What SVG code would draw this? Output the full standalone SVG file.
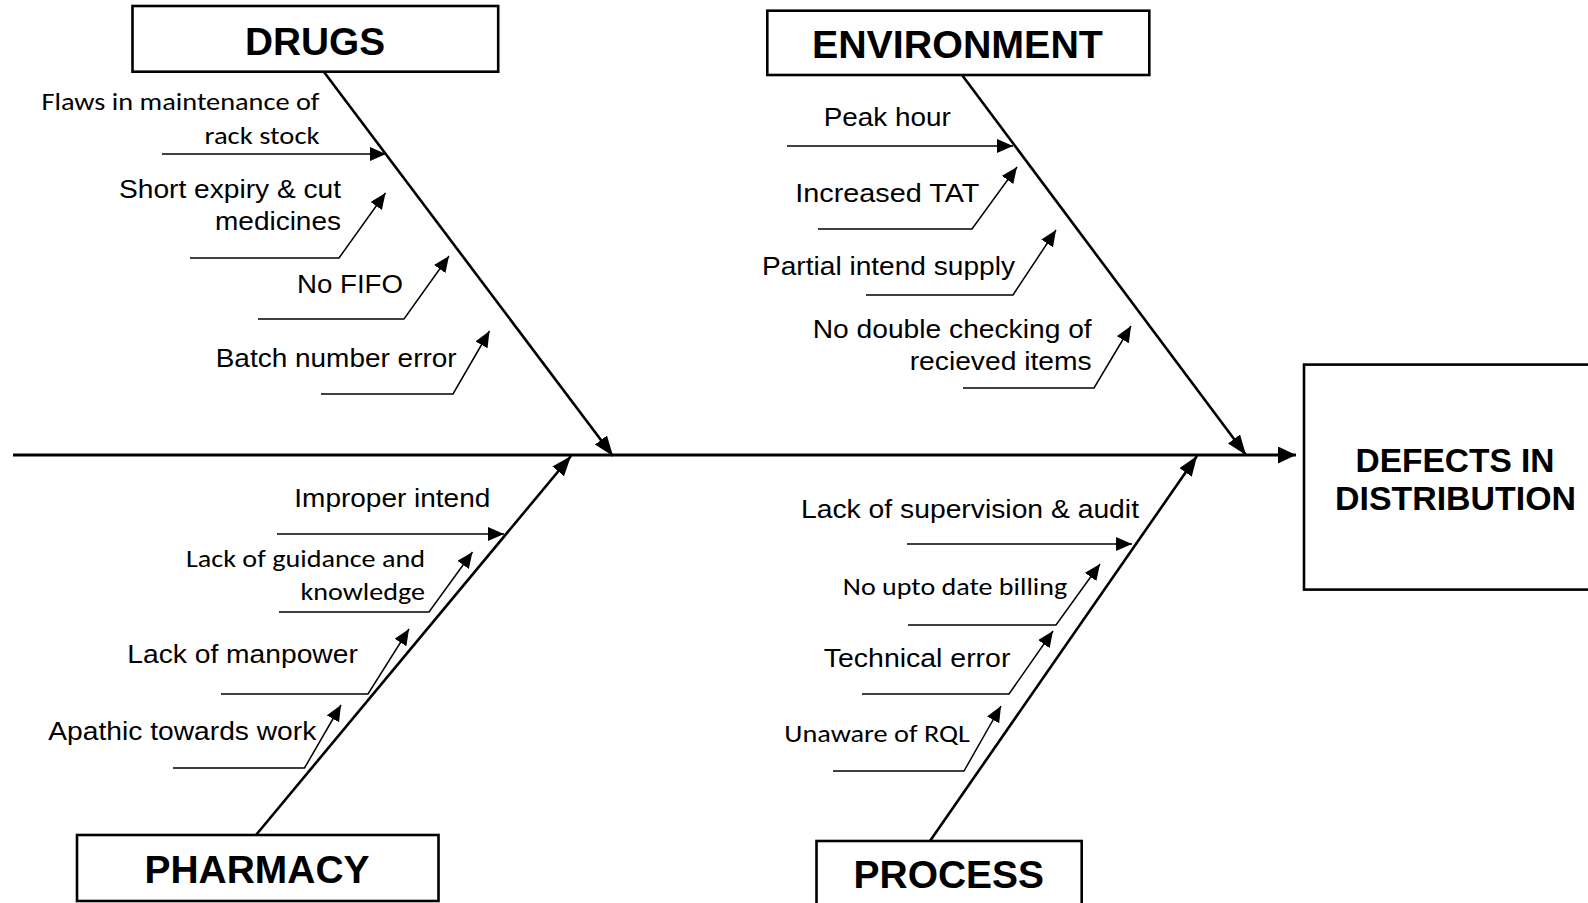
<svg xmlns="http://www.w3.org/2000/svg" width="1588" height="903" viewBox="0 0 1588 903">
<style>
.box{fill:#fff;stroke:#000;stroke-width:2.6}
.title{font-family:"Liberation Sans",Arial,sans-serif;font-weight:bold;font-size:38px;fill:#000;text-anchor:middle}
.big{font-family:"Liberation Sans",Arial,sans-serif;font-weight:bold;font-size:33px;fill:#000;text-anchor:middle}
.t{font-family:"Liberation Sans",Arial,sans-serif;font-size:25.5px;fill:#000;text-anchor:end}
.c{font-family:Carlito,Lato,"Open Sans",sans-serif;font-size:25px;fill:#000;text-anchor:end}
.spine{stroke:#000;stroke-width:3;fill:none}
.bone{stroke:#000;stroke-width:2.6;fill:none}
.lead{stroke:#000;stroke-width:1.5;fill:none}
</style>
<defs>
<marker id="ah" markerUnits="userSpaceOnUse" markerWidth="19" markerHeight="18" refX="18" refY="8.5" orient="auto"><path d="M0,0 L18,8.5 L0,17 z" fill="#000"/></marker>
<marker id="ahb" markerUnits="userSpaceOnUse" markerWidth="21" markerHeight="16" refX="20" refY="7.5" orient="auto"><path d="M0,0 L20,7.5 L0,15 z" fill="#000"/></marker>
<marker id="ahl" markerUnits="userSpaceOnUse" markerWidth="17" markerHeight="15" refX="16" refY="7" orient="auto"><path d="M0,0 L16,7 L0,14 z" fill="#000"/></marker>
</defs>

<g id="connectors">
<line class="spine" x1="13" y1="455" x2="1296" y2="455" marker-end="url(#ah)"/>
<line class="bone" x1="324" y1="72" x2="613" y2="456" marker-end="url(#ahb)"/>
<line class="bone" x1="962" y1="75" x2="1246" y2="455" marker-end="url(#ahb)"/>
<line class="bone" x1="256" y1="835" x2="571" y2="456" marker-end="url(#ahb)"/>
<line class="bone" x1="930" y1="841" x2="1197" y2="456" marker-end="url(#ahb)"/>
<!-- drugs leaders -->
<polyline class="lead" points="162,154 386,154" marker-end="url(#ahl)"/>
<polyline class="lead" points="190,258 339,258 385.5,193" marker-end="url(#ahl)"/>
<polyline class="lead" points="258,319 404,319 449,256" marker-end="url(#ahl)"/>
<polyline class="lead" points="321,394 453,394 489.5,331" marker-end="url(#ahl)"/>
<!-- environment leaders -->
<polyline class="lead" points="787,146 1013,146" marker-end="url(#ahl)"/>
<polyline class="lead" points="818,229 972,229 1017,167" marker-end="url(#ahl)"/>
<polyline class="lead" points="866,295 1013,295 1056,230" marker-end="url(#ahl)"/>
<polyline class="lead" points="963,388 1094,388 1131,326" marker-end="url(#ahl)"/>
<!-- pharmacy leaders -->
<polyline class="lead" points="277,534 504,534" marker-end="url(#ahl)"/>
<polyline class="lead" points="279,612 429,612 472.5,552" marker-end="url(#ahl)"/>
<polyline class="lead" points="221,694 368,694 409,629" marker-end="url(#ahl)"/>
<polyline class="lead" points="173,768 304.5,768 341,705" marker-end="url(#ahl)"/>
<!-- process leaders -->
<polyline class="lead" points="907,544 1132,544" marker-end="url(#ahl)"/>
<polyline class="lead" points="908,625 1056,625 1100,564" marker-end="url(#ahl)"/>
<polyline class="lead" points="862,694 1009,694 1053,631" marker-end="url(#ahl)"/>
<polyline class="lead" points="833,771 964,771 1001,706" marker-end="url(#ahl)"/>
</g>

<g id="drugs">
<rect class="box" x="132.5" y="6" width="365.7" height="65.7"/>
<text class="title" x="315" y="55" textLength="140" lengthAdjust="spacingAndGlyphs">DRUGS</text>
<text class="c" x="319.5" y="110" textLength="278" lengthAdjust="spacingAndGlyphs">Flaws in maintenance of</text>
<text class="c" x="319.5" y="144" textLength="115" lengthAdjust="spacingAndGlyphs">rack stock</text>
<text class="t" x="341" y="198" textLength="222" lengthAdjust="spacingAndGlyphs">Short expiry &amp; cut</text>
<text class="t" x="341" y="230" textLength="126" lengthAdjust="spacingAndGlyphs">medicines</text>
<text class="t" x="403" y="293" textLength="106" lengthAdjust="spacingAndGlyphs">No FIFO</text>
<text class="t" x="456.7" y="367" textLength="241" lengthAdjust="spacingAndGlyphs">Batch number error</text>
</g>

<g id="environment">
<rect class="box" x="767.3" y="10.7" width="382" height="64.3"/>
<text class="title" x="957.4" y="58.3" textLength="291" lengthAdjust="spacingAndGlyphs">ENVIRONMENT</text>
<text class="t" x="950.7" y="126" textLength="127" lengthAdjust="spacingAndGlyphs">Peak hour</text>
<text class="t" x="979.3" y="202.3" textLength="184" lengthAdjust="spacingAndGlyphs">Increased TAT</text>
<text class="t" x="1015" y="275" textLength="253" lengthAdjust="spacingAndGlyphs">Partial intend supply</text>
<text class="t" x="1091.7" y="338.3" textLength="279" lengthAdjust="spacingAndGlyphs">No double checking of</text>
<text class="t" x="1091.7" y="370" textLength="182" lengthAdjust="spacingAndGlyphs">recieved items</text>
</g>

<g id="pharmacy">
<rect class="box" x="77" y="835" width="361.5" height="66"/>
<text class="title" x="257" y="883.3" textLength="225" lengthAdjust="spacingAndGlyphs">PHARMACY</text>
<text class="t" x="490.3" y="506.7" textLength="196" lengthAdjust="spacingAndGlyphs">Improper intend</text>
<text class="c" x="425" y="566.7" textLength="239" lengthAdjust="spacingAndGlyphs">Lack of guidance and</text>
<text class="c" x="425" y="600" textLength="124.5" lengthAdjust="spacingAndGlyphs">knowledge</text>
<text class="t" x="357.8" y="662.7" textLength="230.5" lengthAdjust="spacingAndGlyphs">Lack of manpower</text>
<text class="t" x="316.3" y="740" textLength="268" lengthAdjust="spacingAndGlyphs">Apathic towards work</text>
</g>

<g id="process">
<rect class="box" x="816.5" y="841" width="265.2" height="80"/>
<text class="title" x="948.8" y="888" textLength="190.5" lengthAdjust="spacingAndGlyphs">PROCESS</text>
<text class="t" x="1139" y="518.3" textLength="338" lengthAdjust="spacingAndGlyphs">Lack of supervision &amp; audit</text>
<text class="c" x="1067.2" y="595" textLength="224.4" lengthAdjust="spacingAndGlyphs">No upto date billing</text>
<text class="t" x="1010.4" y="666.7" textLength="186.6" lengthAdjust="spacingAndGlyphs">Technical error</text>
<text class="c" x="969.9" y="741.7" textLength="185.6" lengthAdjust="spacingAndGlyphs">Unaware of RQL</text>
</g>

<g id="defects">
<rect class="box" x="1304" y="364.6" width="300" height="225"/>
<text class="big" x="1455" y="472" textLength="199" lengthAdjust="spacingAndGlyphs">DEFECTS IN</text>
<text class="big" x="1455.5" y="510" textLength="241" lengthAdjust="spacingAndGlyphs">DISTRIBUTION</text>
</g>
</svg>
